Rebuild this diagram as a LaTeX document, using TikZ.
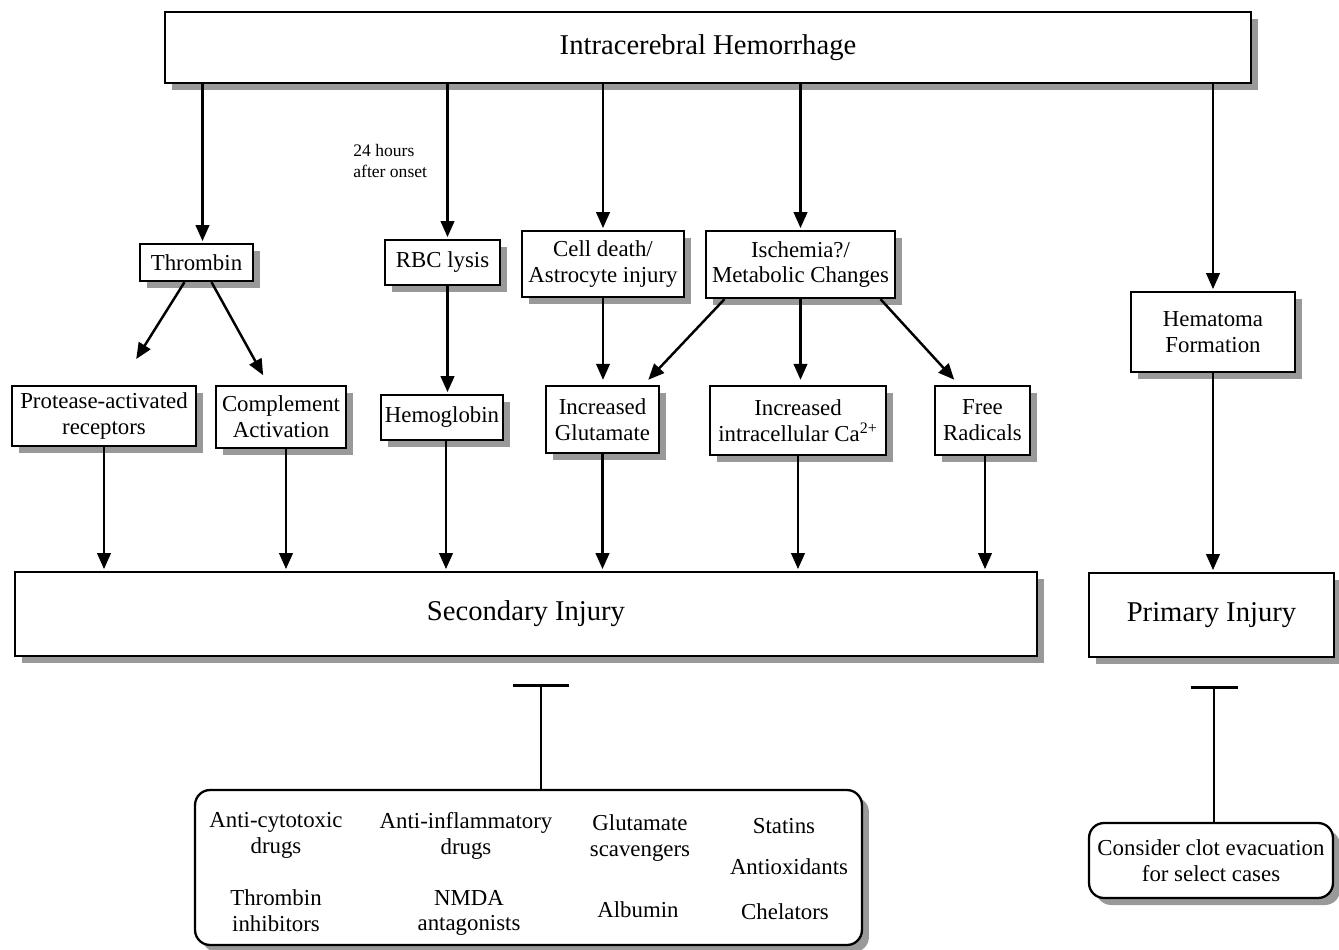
\documentclass[tikz,border=0pt]{standalone}
\usepackage{fontspec}
\setmainfont{Liberation Serif}
\usetikzlibrary{arrows.meta,shadows}

\begin{document}
\begin{tikzpicture}[x=0.02cm, y=-0.02cm,
    box/.style={draw, line width=1.3pt, fill=white, align=center, inner sep=1pt,
      drop shadow={shadow xshift=0.14cm, shadow yshift=-0.14cm, fill=black!40, opacity=1},
      font=\fontsize{13}{14.7}\selectfont},
    bigbox/.style={box, font=\fontsize{16.3}{19}\selectfont},
    rbox/.style={box, rounded corners=0.3cm},
    arr/.style={-{Triangle[length=0.32cm, width=0.27cm]}, line width=1.4pt, shorten >=1pt},
    inhib/.style={-{Bar[width=#1]}, line width=1.4pt},
    drug/.style={align=center, inner sep=0pt, font=\fontsize{13}{14.7}\selectfont}]
    \useasboundingbox (0,0) rectangle (1339,950);

    \node[bigbox, minimum width=21.72cm, minimum height=1.42cm] (ich) at (708,47.5) {Intracerebral Hemorrhage};

    \node[box, minimum width=2.26cm, minimum height=0.74cm] (thr) at (196.5,262.5) {Thrombin};
    \node[box, minimum width=2.3cm, minimum height=0.9cm] (rbc) at (442.5,262.5) {RBC lysis};
    \node[box, minimum width=3.24cm, minimum height=1.32cm] (cell) at (603,264) {Cell death/\\Astrocyte injury};
    \node[box, minimum width=3.78cm, minimum height=1.34cm] (isch) at (800.5,264.5) {Ischemia?/\\Metabolic Changes};
    \node[box, minimum width=3.28cm, minimum height=1.6cm] (hema) at (1213,332) {Hematoma\\Formation};
    \node[anchor=west, align=left, inner sep=0pt, font=\fontsize{10}{12.5}\selectfont] (onset) at (353,161) {24 hours\\after onset};

    \node[box, minimum width=3.68cm, minimum height=1.2cm] (prot) at (104,416) {Protease-activated\\receptors};
    \node[box, minimum width=2.6cm, minimum height=1.24cm] (comp) at (281,417) {Complement\\Activation};
    \node[box, minimum width=2.44cm, minimum height=0.9cm] (hemo) at (442,417.5) {Hemoglobin};
    \node[box, minimum width=2.26cm, minimum height=1.34cm] (glut) at (602.5,419.5) {Increased\\Glutamate};
    \node[box, minimum width=3.52cm, minimum height=1.38cm] (calc) at (798,420.5) {Increased\\intracellular Ca\textsuperscript{2+}};
    \node[box, minimum width=1.9cm, minimum height=1.38cm] (free) at (982.5,420.5) {Free\\Radicals};

    \node[bigbox, minimum width=20.44cm, minimum height=1.68cm] (sec) at (526,614) {Secondary Injury};
    \node[bigbox, minimum width=4.9cm, minimum height=1.68cm] (prim) at (1211.5,615) {Primary Injury};

    \node[rbox, minimum width=13.34cm, minimum height=3.1cm] (drugs) at (528.5,867.5) {};
    \node[rbox, minimum width=4.88cm, minimum height=1.5cm] (clot) at (1211,860.5) {Consider clot evacuation\\for select cases};

    \node[drug] (cyto) at (276,835) {Anti-cytotoxic\\drugs};
    \node[drug] (infl) at (466,836) {Anti-inflammatory\\drugs};
    \node[drug] (scav) at (640,838) {Glutamate\\scavengers};
    \node[drug] (stat) at (784,826) {Statins};
    \node[drug] (antiox) at (789,867) {Antioxidants};
    \node[drug] (thrinh) at (276,911) {Thrombin\\inhibitors};
    \node[drug] (nmda) at (469,913) {NMDA\\antagonists};
    \node[drug] (albu) at (638,910) {Albumin};
    \node[drug] (chel) at (785,912) {Chelators};

    \draw[arr] ([xshift=0.12cm]thr.north |- ich.south) -- ([xshift=0.12cm]thr.north);
    \draw[arr] ([xshift=0.1cm]rbc.north |- ich.south) -- ([xshift=0.1cm]rbc.north);
    \draw[arr] (cell.north |- ich.south) -- (cell.north);
    \draw[arr] (isch.north |- ich.south) -- (isch.north);
    \draw[arr] (hema.north |- ich.south) -- (hema.north);

    \draw[arr, shorten >=0.61cm] ([xshift=-0.24cm]thr.south) -- ([xshift=0.32cm]prot.north);
    \draw[arr, shorten >=0.22cm] ([xshift=0.3cm]thr.south) -- ([xshift=-0.25cm]comp.north);
    \draw[arr] ([xshift=0.1cm]rbc.south) -- ([xshift=0.1cm]rbc.south |- hemo.north);
    \draw[arr, shorten >=0.1cm] (cell.south) -- (cell.south |- glut.north);
    \draw[arr, shorten >=0.14cm] ([xshift=-1.52cm]isch.south) -- ([xshift=0.82cm]glut.north);
    \draw[arr, shorten >=0.1cm] (isch.south) -- (isch.south |- calc.north);
    \draw[arr, shorten >=0.14cm] ([xshift=1.6cm]isch.south) -- ([xshift=-0.47cm]free.north);

    \draw[arr] (prot.south) -- (prot.south |- sec.north);
    \draw[arr] ([xshift=0.1cm]comp.south) -- ([xshift=0.1cm]comp.south |- sec.north);
    \draw[arr] ([xshift=0.08cm]hemo.south) -- ([xshift=0.08cm]hemo.south |- sec.north);
    \draw[arr] (glut.south) -- (glut.south |- sec.north);
    \draw[arr] (calc.south) -- (calc.south |- sec.north);
    \draw[arr] ([xshift=0.05cm]free.south) -- ([xshift=0.05cm]free.south |- sec.north);
    \draw[arr] (hema.south) -- (hema.south |- prim.north);

    \draw[inhib=1.12cm, shorten >=0.54cm] ([xshift=0.25cm]drugs.north) -- ([xshift=0.25cm]drugs.north |- sec.south);
    \draw[inhib=0.94cm, shorten >=0.56cm] ([xshift=0.06cm]clot.north) -- ([xshift=0.06cm]clot.north |- prim.south);
\end{tikzpicture}
\end{document}
